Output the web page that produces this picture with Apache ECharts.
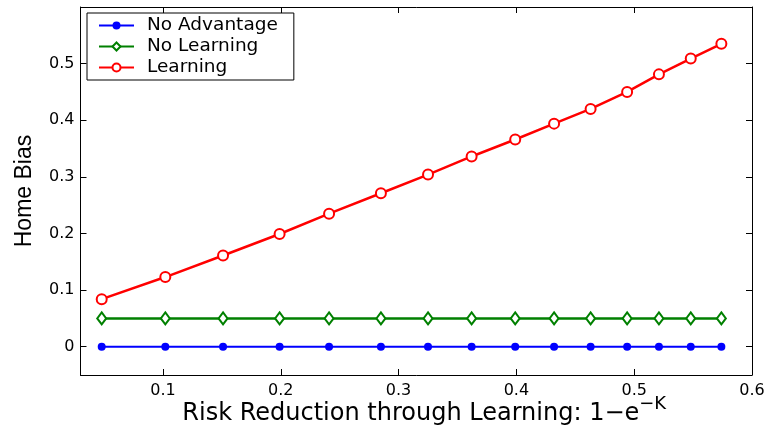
<!DOCTYPE html>
<html>
<head>
<meta charset="utf-8">
<script src="https://cdn.jsdelivr.net/npm/echarts@6/dist/echarts.min.js"></script>
<style>
html,body{margin:0;padding:0;background:#fff;}
#chart{width:768px;height:428px;}
</style>
</head>
<body>
<div id="chart"></div>
<script>
// Data
const riskReduction = [0.048, 0.102, 0.151, 0.199, 0.241, 0.285, 0.325, 0.362, 0.399, 0.432, 0.463, 0.494, 0.521, 0.548, 0.574];
const noAdvantage  = [0, 0, 0, 0, 0, 0, 0, 0, 0, 0, 0, 0, 0, 0, 0];
const noLearning   = [0.05, 0.05, 0.05, 0.05, 0.05, 0.05, 0.05, 0.05, 0.05, 0.05, 0.05, 0.05, 0.05, 0.05, 0.05];
const learning     = [0.084, 0.123, 0.161, 0.199, 0.235, 0.271, 0.304, 0.336, 0.366, 0.394, 0.420, 0.450, 0.481, 0.509, 0.535];
const seriesNames  = ['No Advantage', 'No Learning', 'Learning'];
const xTicks = [0.1, 0.2, 0.3, 0.4, 0.5, 0.6];
const yTicks = [0, 0.1, 0.2, 0.3, 0.4, 0.5];

const pairs = ys => riskReduction.map((x, i) => [x, ys[i]]);
const font = 'DejaVu Sans';

const chart = echarts.init(document.getElementById('chart'));
const frameX = {
  type: 'value', min: 0.03, max: 0.6,
  axisLine: {show: true, onZero: false, lineStyle: {color: '#000', width: 1}},
  axisTick: {show: true, inside: true, length: 6, customValues: xTicks, lineStyle: {color: '#000'}},
  splitLine: {show: false}
};
const frameY = {
  type: 'value', min: -0.05, max: 0.6,
  axisLine: {show: true, onZero: false, lineStyle: {color: '#000', width: 1}},
  axisTick: {show: true, inside: true, length: 6, customValues: yTicks, lineStyle: {color: '#000'}},
  splitLine: {show: false}
};

chart.setOption({
  animation: false,
  backgroundColor: '#fff',
  grid: {left: 80.5, right: 16, top: 7, bottom: 53, containLabel: false, outerBoundsMode: 'none'},
  xAxis: [
    Object.assign({}, frameX, {
      position: 'bottom',
      axisLabel: {show: true, customValues: xTicks, fontFamily: font, fontSize: 16, color: '#000', margin: 8},
      name: '{m|Risk Reduction through Learning: 1\u2212e}{s|\u2212K}',
      nameLocation: 'middle',
      nameGap: 20,
      nameMoveOverlap: false,
      nameTextStyle: {
        padding: [0, 0, 0, 16],
        rich: {
          m: {fontFamily: font, fontSize: 24, color: '#000'},
          s: {fontFamily: font, fontSize: 18, color: '#000', padding: [0, 0, 20, 0]}
        }
      }
    }),
    Object.assign({}, frameX, {position: 'top', axisLabel: {show: false}})
  ],
  yAxis: [
    Object.assign({}, frameY, {
      position: 'left',
      axisLabel: {show: true, customValues: yTicks, fontFamily: font, fontSize: 16, color: '#000', margin: 6},
      name: 'Home Bias',
      nameLocation: 'middle',
      nameGap: 44,
      nameMoveOverlap: false,
      nameTextStyle: {fontFamily: 'Liberation Sans', fontSize: 23, color: '#000'}
    }),
    Object.assign({}, frameY, {position: 'right', axisLabel: {show: false}})
  ],
  legend: {
    orient: 'vertical',
    left: 87, top: 13,
    backgroundColor: '#fff',
    borderColor: '#000', borderWidth: 1, borderRadius: 0,
    padding: [3, 16, 3, 11],
    itemWidth: 35, itemHeight: 10, itemGap: 2,
    textStyle: {fontFamily: font, fontSize: 18.5, color: '#000', padding: [0, 0, 0, 8]},
    data: seriesNames
  },
  series: [
    {
      name: seriesNames[0], type: 'line', data: pairs(noAdvantage),
      symbol: 'circle', symbolSize: 8,
      itemStyle: {color: '#0000ff'},
      lineStyle: {color: '#0000ff', width: 2}, z: 2
    },
    {
      name: seriesNames[1], type: 'line', data: pairs(noLearning),
      symbol: 'emptyDiamond', symbolSize: [9, 12],
      itemStyle: {color: '#008000', borderWidth: 2},
      lineStyle: {color: '#008000', width: 2.5}, z: 3
    },
    {
      name: seriesNames[2], type: 'line', data: pairs(learning),
      symbol: 'emptyCircle', symbolSize: 10,
      itemStyle: {color: '#ff0000', borderWidth: 2},
      lineStyle: {color: '#ff0000', width: 2.5}, z: 4
    }
  ]
});
</script>
</body>
</html>
